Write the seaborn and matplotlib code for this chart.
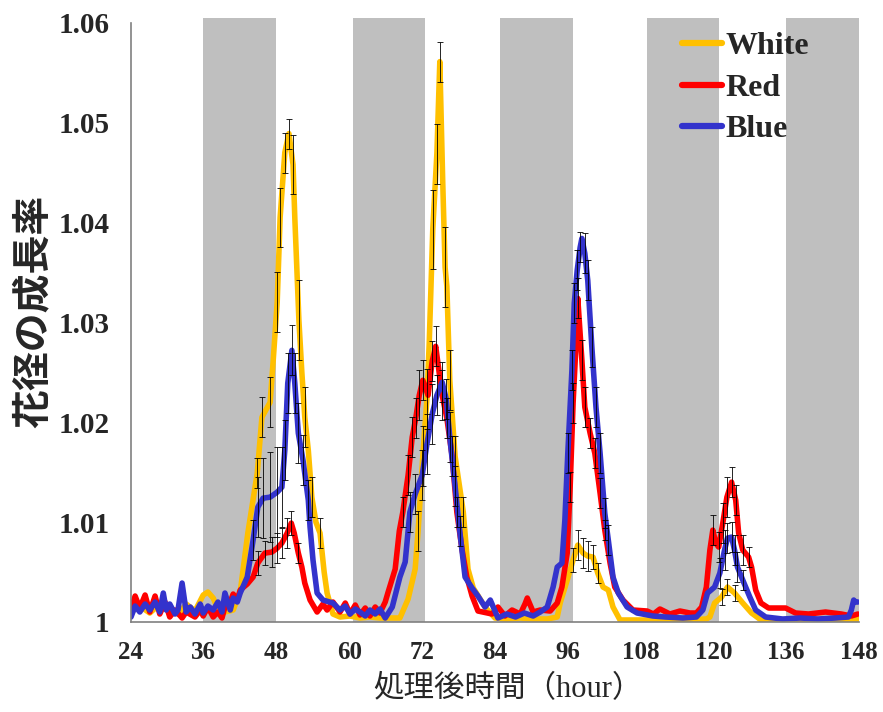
import numpy as np
import pandas as pd
import seaborn as sns
import matplotlib.pyplot as plt

# hours after treatment (as laid out on the axis) and flower-diameter growth ratio
white_x = [24.0, 25.5, 27.2, 28.9, 30.6, 32.0, 33.4, 34.9, 36.3, 37.1, 38.0, 38.8, 40.0, 41.4,
           42.6, 43.9, 45.5, 46.3, 47.7, 48.2, 48.9, 49.4, 50.2, 50.9, 51.6, 51.9, 52.6, 53.1,
           53.6, 54.2, 54.8, 55.5, 56.2, 56.9, 57.4, 58.4,
           59.6, 61.3, 63.0, 64.7, 66.4, 68.0,
           69.8, 71.2, 72.4, 72.9, 73.7, 74.4, 74.8, 75.4, 76.1, 76.6, 77.1, 77.5, 77.8, 78.3,
           79.2, 80.6, 81.4, 82.3, 84.3, 86.0,
           88.0, 90.3, 92.5, 94.9, 96.6,
           97.1, 98.3, 99.3, 100.1, 101.0, 101.8, 102.7, 103.5, 104.4, 105.3, 106.1, 107.3,
           110.0, 114.0, 118.0, 122.0,
           122.6, 123.4, 124.6, 125.6, 126.8, 128.2, 129.7, 131.3,
           135.0, 140.0, 145.0, 148.0]
white_y = [1.0010, 1.0016, 1.0009, 1.0018, 1.0012, 1.0008, 1.0018, 1.0011, 1.0027, 1.0030, 1.0024, 1.0013, 1.0010, 1.0012,
           1.0030, 1.0089, 1.0149, 1.0205, 1.0220, 1.0260, 1.0320, 1.0405, 1.0470, 1.0489, 1.0458, 1.0405, 1.0302, 1.0250,
           1.0205, 1.0172, 1.0125, 1.0100, 1.0089, 1.0050, 1.0029, 1.0008,
           1.0005, 1.0006, 1.0004, 1.0005, 1.0004, 1.0004,
           1.0004, 1.0023, 1.0053, 1.0091, 1.0166, 1.0223, 1.0280, 1.0393, 1.0469, 1.0561, 1.0440, 1.0355, 1.0336, 1.0242,
           1.0166, 1.0110, 1.0053, 1.0034, 1.0015, 1.0004,
           1.0003, 1.0004, 1.0003, 1.0003, 1.0005,
           1.0019, 1.0042, 1.0062, 1.0077, 1.0069, 1.0066, 1.0065, 1.0049, 1.0035, 1.0032, 1.0015, 1.0002,
           1.0002, 1.0002, 1.0002, 1.0003,
           1.0005, 1.0019, 1.0025, 1.0035, 1.0029, 1.0019, 1.0009, 1.0002,
           1.0002, 1.0002, 1.0002, 1.0003]

red_x = [24.0, 24.7, 25.5, 26.4, 27.2, 28.1, 28.9, 29.8, 30.6, 31.5, 32.7, 33.4, 34.9, 35.8, 36.3, 37.1,
         38.0, 38.8, 39.5, 40.0, 40.9, 41.4, 42.1,
         42.6, 43.8, 44.8, 45.6, 46.8, 48.0, 48.9, 49.7, 50.6, 51.3, 51.8, 52.5, 53.1, 53.6, 54.5, 55.7,
         56.7, 57.4, 58.4, 59.6, 60.5, 61.3, 62.2, 63.0, 63.9, 64.7, 65.6, 66.4, 67.3,
         67.8, 69.0, 69.7, 70.3, 71.2, 71.9, 72.5, 73.1, 73.7, 74.6, 75.3, 75.9, 76.5, 77.0, 77.8, 78.7,
         79.5, 80.4, 81.2, 82.1, 83.1, 85.5,
         86.5, 87.7, 88.9, 90.3, 91.1, 91.5, 92.5, 93.7, 95.4,
         96.6, 97.4, 98.3, 98.8, 99.3, 100.0, 100.1, 100.8, 101.3, 102.2, 103.0, 103.9, 104.7, 105.6,
         106.4, 107.8, 109.5, 111.9,
         113.0, 114.1, 115.8, 117.5, 119.2, 120.3,
         121.2, 122.0, 122.6, 123.1, 123.6, 124.1, 124.8, 125.5, 126.3, 127.0, 127.5, 128.2, 129.2, 129.7,
         130.4, 131.3, 132.6, 135.5, 137.2, 139.4, 142.3, 145.0, 146.7, 147.8]
red_y = [1.0012, 1.0026, 1.0014, 1.0027, 1.0010, 1.0026, 1.0008, 1.0020, 1.0005, 1.0012, 1.0004, 1.0010, 1.0005, 1.0012, 1.0006, 1.0015,
         1.0005, 1.0010, 1.0004, 1.0015, 1.0020, 1.0028, 1.0022,
         1.0032, 1.0038, 1.0045, 1.0059, 1.0069, 1.0070, 1.0074, 1.0079, 1.0089, 1.0099, 1.0089, 1.0069, 1.0055, 1.0039, 1.0022, 1.0010,
         1.0018, 1.0012, 1.0020, 1.0010, 1.0019, 1.0008, 1.0017, 1.0007, 1.0014, 1.0006, 1.0015, 1.0009, 1.0020,
         1.0030, 1.0053, 1.0091, 1.0110, 1.0147, 1.0185, 1.0204, 1.0227, 1.0242, 1.0227, 1.0261, 1.0276, 1.0249, 1.0227, 1.0204, 1.0166,
         1.0110, 1.0072, 1.0045, 1.0026, 1.0011, 1.0008,
         1.0015, 1.0006, 1.0012, 1.0008, 1.0018, 1.0024, 1.0010, 1.0012, 1.0011,
         1.0019, 1.0035, 1.0069, 1.0135, 1.0219, 1.0302, 1.0324, 1.0262, 1.0215, 1.0189, 1.0169, 1.0129, 1.0092, 1.0059,
         1.0035, 1.0022, 1.0012, 1.0011,
         1.0008, 1.0013, 1.0008, 1.0011, 1.0009, 1.0009,
         1.0015, 1.0035, 1.0072, 1.0092, 1.0079, 1.0075, 1.0099, 1.0125, 1.0140, 1.0122, 1.0089, 1.0072, 1.0065, 1.0055,
         1.0032, 1.0019, 1.0014, 1.0014, 1.0009, 1.0008, 1.0010, 1.0008, 1.0006, 1.0008]

blue_x = [24.0, 24.7, 25.5, 26.4, 27.2, 28.1, 28.9, 29.5, 30.0, 30.6, 31.5, 32.0, 32.7, 33.4, 34.1, 34.9,
          35.8, 36.3, 37.1, 38.0, 38.8, 39.5, 40.0, 40.9, 41.4, 42.1,
          42.6, 43.8, 44.8, 45.6, 46.5, 47.7, 48.9, 49.7, 50.2, 50.7, 51.4, 51.9, 52.5, 53.3, 54.2, 54.5,
          55.0, 55.7, 56.7, 58.4,
          59.6, 60.5, 61.3, 62.2, 63.0, 63.9, 64.7, 65.6, 66.4, 67.3,
          68.5, 69.8, 70.7, 71.5, 72.4, 73.6, 74.4, 75.3, 76.1, 77.0, 77.7, 78.3, 79.2, 80.0, 80.9, 82.1,
          83.1, 84.3, 85.2, 86.5,
          88.0, 89.5, 91.0, 92.5, 93.7,
          94.9, 95.9, 96.6, 97.4, 97.9, 98.4, 99.1, 99.5, 100.0, 100.5, 100.8, 101.3, 101.8, 102.5, 103.2,
          103.9, 104.7, 105.3, 106.1, 107.0, 108.5, 110.2, 112.9,
          115.0, 118.0, 120.3,
          121.4, 122.2, 123.4, 124.3, 125.1, 125.6, 126.3, 126.8, 127.3, 128.2, 129.4, 130.4, 132.1,
          135.0, 138.0, 141.0, 144.0, 146.2, 146.7, 147.1, 147.4, 147.8]
blue_y = [1.0005, 1.0016, 1.0010, 1.0018, 1.0012, 1.0020, 1.0010, 1.0029, 1.0012, 1.0018, 1.0008, 1.0012, 1.0039, 1.0010, 1.0015, 1.0008,
          1.0018, 1.0009, 1.0016, 1.0012, 1.0020, 1.0010, 1.0029, 1.0012, 1.0024, 1.0020,
          1.0029, 1.0045, 1.0082, 1.0115, 1.0124, 1.0125, 1.0130, 1.0135, 1.0172, 1.0239, 1.0272, 1.0239, 1.0189, 1.0162, 1.0122, 1.0095,
          1.0062, 1.0029, 1.0022, 1.0019,
          1.0012, 1.0016, 1.0008, 1.0013, 1.0010, 1.0006, 1.0012, 1.0008, 1.0013, 1.0004,
          1.0015, 1.0045, 1.0060, 1.0110, 1.0128, 1.0147, 1.0178, 1.0208, 1.0227, 1.0240, 1.0223, 1.0185, 1.0136, 1.0091, 1.0045, 1.0034,
          1.0026, 1.0015, 1.0022, 1.0004,
          1.0008, 1.0005, 1.0009, 1.0006, 1.0010,
          1.0015, 1.0035, 1.0055, 1.0059, 1.0102, 1.0169, 1.0252, 1.0319, 1.0352, 1.0375, 1.0384, 1.0369, 1.0342, 1.0275, 1.0215,
          1.0169, 1.0109, 1.0082, 1.0045, 1.0029, 1.0015, 1.0009, 1.0006,
          1.0005, 1.0004, 1.0005,
          1.0012, 1.0029, 1.0035, 1.0049, 1.0072, 1.0084, 1.0085, 1.0072, 1.0055, 1.0042, 1.0025, 1.0012, 1.0005,
          1.0003, 1.0004, 1.0003, 1.0004, 1.0005, 1.0012, 1.0022, 1.0020, 1.0020]

# standard-error bars (subset of points)
white_err_x = [45.5, 46.3, 47.7, 48.9, 49.4, 50.2, 50.9, 51.6, 52.6, 53.6, 54.8, 56.2,
               72.9, 73.7, 74.4, 75.4, 76.1, 76.6, 77.5, 78.3, 79.2, 80.6,
               99.3, 100.1, 101.0, 101.8, 102.7, 103.5,
               124.6, 125.6, 126.8]
white_err = [0.0015, 0.002, 0.0025, 0.003, 0.003, 0.002, 0.0015, 0.003, 0.004, 0.003, 0.002, 0.0015,
             0.002, 0.003, 0.003, 0.004, 0.003, 0.002, 0.004, 0.003, 0.002, 0.0015,
             0.0012, 0.0015, 0.0015, 0.0015, 0.0012, 0.001,
             0.0008, 0.0008, 0.0008]
red_err_x = [45.6, 46.8, 48.0, 48.9, 49.7, 50.6, 51.3, 52.5,
             70.3, 71.2, 71.9, 72.5, 73.1, 73.7, 75.3, 75.9, 77.0, 77.8, 78.7, 79.5,
             98.8, 99.3, 100.1, 100.8, 101.3, 102.2, 103.0, 103.9, 104.7,
             123.1, 124.1, 124.8, 125.5, 126.3, 127.0, 128.2, 129.2]
red_err = [0.0012, 0.0012, 0.0015, 0.0015, 0.0015, 0.0015, 0.0012, 0.001,
           0.0015, 0.002, 0.002, 0.002, 0.0025, 0.002, 0.002, 0.002, 0.0025, 0.002, 0.002, 0.0015,
           0.0015, 0.002, 0.002, 0.002, 0.002, 0.0015, 0.0015, 0.0015, 0.001,
           0.0015, 0.0015, 0.002, 0.002, 0.0015, 0.0015, 0.0015, 0.001]
blue_err_x = [44.8, 45.6, 46.5, 47.7, 48.9, 49.7, 50.2, 50.7, 51.4, 51.9, 52.5, 53.3, 54.2,
              71.5, 72.4, 73.6, 74.4, 75.3, 76.1, 77.0, 77.7, 78.3, 79.2, 80.0,
              98.4, 99.1, 99.5, 100.0, 100.5, 101.3, 101.8, 102.5, 103.2, 103.9, 104.7, 105.3,
              124.3, 125.1, 125.6, 126.3, 126.8, 127.3, 128.2]
blue_err = [0.002, 0.003, 0.004, 0.0045, 0.0045, 0.004, 0.003, 0.003, 0.0025, 0.003, 0.003, 0.0025, 0.002,
            0.002, 0.002, 0.0025, 0.003, 0.003, 0.002, 0.002, 0.002, 0.0025, 0.002, 0.0015,
            0.002, 0.002, 0.002, 0.002, 0.0015, 0.002, 0.002, 0.002, 0.002, 0.002, 0.0015, 0.0015,
            0.0015, 0.002, 0.0015, 0.0015, 0.0015, 0.0015, 0.001]

# dark periods (grey bands)
dark_start = [36.26, 61.81, 86.85, 111.89, 135.51]
dark_end = [48.70, 74.08, 99.29, 124.09, 148.0]

tick_labels = ["24", "36", "48", "60", "72", "84", "96", "108", "120", "136", "148"]
y_ticks = [1.0, 1.01, 1.02, 1.03, 1.04, 1.05, 1.06]
y_labels = ["1", "1.01", "1.02", "1.03", "1.04", "1.05", "1.06"]

colors = {"White": "#FFC000", "Red": "#FF0000", "Blue": "#3333CC"}

sns.set_style("white")
plt.rcParams["font.family"] = ["Liberation Serif", "Noto Sans CJK JP"]

df = pd.concat([
    pd.DataFrame({"hour": white_x, "ratio": white_y, "light": "White"}),
    pd.DataFrame({"hour": red_x, "ratio": red_y, "light": "Red"}),
    pd.DataFrame({"hour": blue_x, "ratio": blue_y, "light": "Blue"}),
], ignore_index=True)

errs = pd.concat([
    pd.DataFrame({"hour": white_err_x, "err": white_err, "light": "White"}),
    pd.DataFrame({"hour": red_err_x, "err": red_err, "light": "Red"}),
    pd.DataFrame({"hour": blue_err_x, "err": blue_err, "light": "Blue"}),
], ignore_index=True).merge(df, on=["hour", "light"])

fig = plt.figure(figsize=(8.83, 7.12), dpi=100)
ax = fig.add_axes([131 / 883, 90 / 712, 728 / 883, 604 / 712])

for s, e in zip(dark_start, dark_end):
    ax.axvspan(s, e, color="#BFBFBF", lw=0, zorder=0)

sns.lineplot(data=df, x="hour", y="ratio", hue="light", hue_order=["White", "Red", "Blue"],
             palette=colors, estimator=None, linewidth=4.0, ax=ax, legend=False,
             solid_joinstyle="round", solid_capstyle="round")

ax.errorbar(errs.hour, errs.ratio, yerr=errs.err, fmt="none", ecolor="black",
            elinewidth=0.6, capsize=2.2, capthick=0.6, zorder=5)

ax.set_xlim(24, 148)
ax.set_ylim(1.0, 1.06047)
ax.set_xticks(np.linspace(24, 148, 11))
ax.set_xticklabels(tick_labels)
ax.set_yticks(y_ticks)
ax.set_yticklabels(y_labels)
ax.tick_params(axis="x", length=0, pad=14, labelsize=18)
ax.tick_params(axis="y", length=6.5, width=1, color="#808080", direction="out", pad=9, labelsize=21)
for lab in ax.get_xticklabels() + ax.get_yticklabels():
    lab.set_fontweight("bold")

for side in ["top", "right"]:
    ax.spines[side].set_visible(False)
for side in ["left", "bottom"]:
    ax.spines[side].set_color("#808080")
    ax.spines[side].set_linewidth(1.2)
ax.spines["left"].set_bounds(1.0, 1.06)
ax.set_xlabel("")
ax.set_ylabel("")

fig.text(33 / 883, 1 - 311 / 712, "花径の成長率", rotation=90, ha="center", va="center",
         fontsize=28, fontweight="bold", family=["Noto Sans CJK JP"])
fig.text(508 / 883, 1 - 690 / 712, "処理後時間（hour）", ha="center", va="center",
         fontsize=22, family=["Liberation Serif", "Noto Sans CJK JP"])

handles = [plt.Line2D([], [], color=colors[k], lw=4.5) for k in ["White", "Red", "Blue"]]
leg = ax.legend(handles, ["White", "Red", "Blue"], loc="upper left",
                bbox_to_anchor=(666 / 883, 1 - 16 / 712), bbox_transform=fig.transFigure,
                frameon=False, borderpad=0, handlelength=1.25, handletextpad=0.1,
                labelspacing=0.38, prop={"family": "Liberation Serif", "weight": "bold", "size": 23})

fig.savefig("out.png", dpi=100)
